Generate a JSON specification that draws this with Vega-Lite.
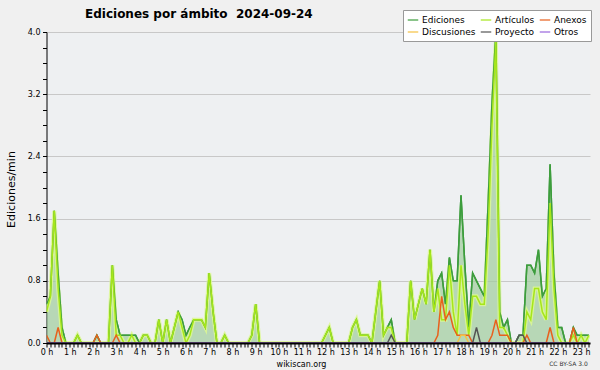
{
"$schema": "https://vega.github.io/schema/vega-lite/v6.json",
"width": 543.5, "height": 311,
"autosize": {"type": "none"},
"padding": {"left": 46.5, "top": 32, "right": 10, "bottom": 27},
"background": "#f0f0f0",
"title": {"text": "Ediciones por ámbito\u00a0\u00a02024-09-24", "anchor": "start", "frame": "group", "dx": 38.5, "dy": 22, "offset": 11, "font": "DejaVu Sans", "fontSize": 12, "fontWeight": "bold", "color": "#000"},
"config": {"view": {"fill": "#eef0f2", "stroke": null}},
"resolve": {"axis": {"x": "independent"}},
"data": {"values": [
{"t":0,"Ediciones":0.5,"Artículos":0.4,"Anexos":0.1,"Discusiones":0,"Proyecto":0,"Otros":0},
{"t":10,"Ediciones":0.6,"Artículos":0.6,"Anexos":0,"Discusiones":0,"Proyecto":0,"Otros":0},
{"t":20,"Ediciones":1.7,"Artículos":1.7,"Anexos":0,"Discusiones":0,"Proyecto":0,"Otros":0},
{"t":30,"Ediciones":0.9,"Artículos":0.7,"Anexos":0.2,"Discusiones":0,"Proyecto":0,"Otros":0},
{"t":40,"Ediciones":0.2,"Artículos":0.1,"Anexos":0,"Discusiones":0,"Proyecto":0,"Otros":0},
{"t":50,"Ediciones":0,"Artículos":0,"Anexos":0,"Discusiones":0,"Proyecto":0,"Otros":0},
{"t":60,"Ediciones":0,"Artículos":0,"Anexos":0,"Discusiones":0,"Proyecto":0,"Otros":0},
{"t":70,"Ediciones":0,"Artículos":0,"Anexos":0,"Discusiones":0,"Proyecto":0,"Otros":0},
{"t":80,"Ediciones":0.1,"Artículos":0.1,"Anexos":0,"Discusiones":0,"Proyecto":0,"Otros":0},
{"t":90,"Ediciones":0,"Artículos":0,"Anexos":0,"Discusiones":0,"Proyecto":0,"Otros":0},
{"t":100,"Ediciones":0,"Artículos":0,"Anexos":0,"Discusiones":0,"Proyecto":0,"Otros":0},
{"t":110,"Ediciones":0,"Artículos":0,"Anexos":0,"Discusiones":0,"Proyecto":0,"Otros":0},
{"t":120,"Ediciones":0,"Artículos":0,"Anexos":0,"Discusiones":0,"Proyecto":0,"Otros":0},
{"t":130,"Ediciones":0.1,"Artículos":0,"Anexos":0.1,"Discusiones":0,"Proyecto":0,"Otros":0},
{"t":140,"Ediciones":0,"Artículos":0,"Anexos":0,"Discusiones":0,"Proyecto":0,"Otros":0},
{"t":150,"Ediciones":0,"Artículos":0,"Anexos":0,"Discusiones":0,"Proyecto":0,"Otros":0},
{"t":160,"Ediciones":0,"Artículos":0,"Anexos":0,"Discusiones":0,"Proyecto":0,"Otros":0},
{"t":170,"Ediciones":1.0,"Artículos":1.0,"Anexos":0,"Discusiones":0,"Proyecto":0,"Otros":0},
{"t":180,"Ediciones":0.3,"Artículos":0.1,"Anexos":0.1,"Discusiones":0,"Proyecto":0,"Otros":0},
{"t":190,"Ediciones":0.1,"Artículos":0.1,"Anexos":0,"Discusiones":0,"Proyecto":0,"Otros":0},
{"t":200,"Ediciones":0.1,"Artículos":0,"Anexos":0,"Discusiones":0,"Proyecto":0,"Otros":0},
{"t":210,"Ediciones":0.1,"Artículos":0,"Anexos":0,"Discusiones":0,"Proyecto":0,"Otros":0},
{"t":220,"Ediciones":0.1,"Artículos":0.1,"Anexos":0,"Discusiones":0,"Proyecto":0,"Otros":0},
{"t":230,"Ediciones":0.1,"Artículos":0,"Anexos":0,"Discusiones":0,"Proyecto":0,"Otros":0},
{"t":240,"Ediciones":0,"Artículos":0,"Anexos":0,"Discusiones":0,"Proyecto":0,"Otros":0},
{"t":250,"Ediciones":0.1,"Artículos":0.1,"Anexos":0,"Discusiones":0,"Proyecto":0,"Otros":0},
{"t":260,"Ediciones":0.1,"Artículos":0.1,"Anexos":0,"Discusiones":0,"Proyecto":0,"Otros":0},
{"t":270,"Ediciones":0,"Artículos":0,"Anexos":0,"Discusiones":0,"Proyecto":0,"Otros":0},
{"t":280,"Ediciones":0,"Artículos":0,"Anexos":0,"Discusiones":0,"Proyecto":0,"Otros":0},
{"t":290,"Ediciones":0.3,"Artículos":0.3,"Anexos":0,"Discusiones":0,"Proyecto":0,"Otros":0},
{"t":300,"Ediciones":0,"Artículos":0,"Anexos":0,"Discusiones":0,"Proyecto":0,"Otros":0},
{"t":310,"Ediciones":0.3,"Artículos":0.3,"Anexos":0,"Discusiones":0,"Proyecto":0,"Otros":0},
{"t":320,"Ediciones":0,"Artículos":0,"Anexos":0,"Discusiones":0,"Proyecto":0,"Otros":0},
{"t":330,"Ediciones":0.2,"Artículos":0.2,"Anexos":0,"Discusiones":0,"Proyecto":0,"Otros":0},
{"t":340,"Ediciones":0.4,"Artículos":0.4,"Anexos":0,"Discusiones":0,"Proyecto":0,"Otros":0},
{"t":350,"Ediciones":0.3,"Artículos":0.2,"Anexos":0,"Discusiones":0,"Proyecto":0,"Otros":0},
{"t":360,"Ediciones":0.1,"Artículos":0,"Anexos":0,"Discusiones":0,"Proyecto":0,"Otros":0},
{"t":370,"Ediciones":0.2,"Artículos":0.1,"Anexos":0,"Discusiones":0,"Proyecto":0,"Otros":0},
{"t":380,"Ediciones":0.3,"Artículos":0.3,"Anexos":0,"Discusiones":0,"Proyecto":0,"Otros":0},
{"t":390,"Ediciones":0.3,"Artículos":0.3,"Anexos":0,"Discusiones":0,"Proyecto":0,"Otros":0},
{"t":400,"Ediciones":0.3,"Artículos":0.3,"Anexos":0,"Discusiones":0,"Proyecto":0,"Otros":0},
{"t":410,"Ediciones":0.2,"Artículos":0.2,"Anexos":0,"Discusiones":0,"Proyecto":0,"Otros":0},
{"t":420,"Ediciones":0.9,"Artículos":0.9,"Anexos":0,"Discusiones":0,"Proyecto":0,"Otros":0},
{"t":430,"Ediciones":0.4,"Artículos":0.4,"Anexos":0,"Discusiones":0,"Proyecto":0,"Otros":0},
{"t":440,"Ediciones":0,"Artículos":0,"Anexos":0,"Discusiones":0,"Proyecto":0,"Otros":0},
{"t":450,"Ediciones":0,"Artículos":0,"Anexos":0,"Discusiones":0,"Proyecto":0,"Otros":0},
{"t":460,"Ediciones":0.1,"Artículos":0.1,"Anexos":0,"Discusiones":0,"Proyecto":0,"Otros":0},
{"t":470,"Ediciones":0,"Artículos":0,"Anexos":0,"Discusiones":0,"Proyecto":0,"Otros":0},
{"t":480,"Ediciones":0,"Artículos":0,"Anexos":0,"Discusiones":0,"Proyecto":0,"Otros":0},
{"t":490,"Ediciones":0,"Artículos":0,"Anexos":0,"Discusiones":0,"Proyecto":0,"Otros":0},
{"t":500,"Ediciones":0,"Artículos":0,"Anexos":0,"Discusiones":0,"Proyecto":0,"Otros":0},
{"t":510,"Ediciones":0,"Artículos":0,"Anexos":0,"Discusiones":0,"Proyecto":0,"Otros":0},
{"t":520,"Ediciones":0,"Artículos":0,"Anexos":0,"Discusiones":0,"Proyecto":0,"Otros":0},
{"t":530,"Ediciones":0.1,"Artículos":0.1,"Anexos":0,"Discusiones":0,"Proyecto":0,"Otros":0},
{"t":540,"Ediciones":0.5,"Artículos":0.5,"Anexos":0,"Discusiones":0,"Proyecto":0,"Otros":0},
{"t":550,"Ediciones":0,"Artículos":0,"Anexos":0,"Discusiones":0,"Proyecto":0,"Otros":0},
{"t":560,"Ediciones":0,"Artículos":0,"Anexos":0,"Discusiones":0,"Proyecto":0,"Otros":0},
{"t":570,"Ediciones":0,"Artículos":0,"Anexos":0,"Discusiones":0,"Proyecto":0,"Otros":0},
{"t":580,"Ediciones":0,"Artículos":0,"Anexos":0,"Discusiones":0,"Proyecto":0,"Otros":0},
{"t":590,"Ediciones":0,"Artículos":0,"Anexos":0,"Discusiones":0,"Proyecto":0,"Otros":0},
{"t":600,"Ediciones":0,"Artículos":0,"Anexos":0,"Discusiones":0,"Proyecto":0,"Otros":0},
{"t":610,"Ediciones":0,"Artículos":0,"Anexos":0,"Discusiones":0,"Proyecto":0,"Otros":0},
{"t":620,"Ediciones":0,"Artículos":0,"Anexos":0,"Discusiones":0,"Proyecto":0,"Otros":0},
{"t":630,"Ediciones":0,"Artículos":0,"Anexos":0,"Discusiones":0,"Proyecto":0,"Otros":0},
{"t":640,"Ediciones":0,"Artículos":0,"Anexos":0,"Discusiones":0,"Proyecto":0,"Otros":0},
{"t":650,"Ediciones":0,"Artículos":0,"Anexos":0,"Discusiones":0,"Proyecto":0,"Otros":0},
{"t":660,"Ediciones":0,"Artículos":0,"Anexos":0,"Discusiones":0,"Proyecto":0,"Otros":0},
{"t":670,"Ediciones":0,"Artículos":0,"Anexos":0,"Discusiones":0,"Proyecto":0,"Otros":0},
{"t":680,"Ediciones":0,"Artículos":0,"Anexos":0,"Discusiones":0,"Proyecto":0,"Otros":0},
{"t":690,"Ediciones":0,"Artículos":0,"Anexos":0,"Discusiones":0,"Proyecto":0,"Otros":0},
{"t":700,"Ediciones":0,"Artículos":0,"Anexos":0,"Discusiones":0,"Proyecto":0,"Otros":0},
{"t":710,"Ediciones":0,"Artículos":0,"Anexos":0,"Discusiones":0,"Proyecto":0,"Otros":0},
{"t":720,"Ediciones":0.1,"Artículos":0.1,"Anexos":0,"Discusiones":0,"Proyecto":0,"Otros":0},
{"t":730,"Ediciones":0.2,"Artículos":0.2,"Anexos":0,"Discusiones":0,"Proyecto":0,"Otros":0},
{"t":740,"Ediciones":0,"Artículos":0,"Anexos":0,"Discusiones":0,"Proyecto":0,"Otros":0},
{"t":750,"Ediciones":0,"Artículos":0,"Anexos":0,"Discusiones":0,"Proyecto":0,"Otros":0},
{"t":760,"Ediciones":0,"Artículos":0,"Anexos":0,"Discusiones":0,"Proyecto":0,"Otros":0},
{"t":770,"Ediciones":0,"Artículos":0,"Anexos":0,"Discusiones":0,"Proyecto":0,"Otros":0},
{"t":780,"Ediciones":0,"Artículos":0,"Anexos":0,"Discusiones":0,"Proyecto":0,"Otros":0},
{"t":790,"Ediciones":0.2,"Artículos":0.2,"Anexos":0,"Discusiones":0,"Proyecto":0,"Otros":0},
{"t":800,"Ediciones":0.3,"Artículos":0.3,"Anexos":0,"Discusiones":0,"Proyecto":0,"Otros":0},
{"t":810,"Ediciones":0.1,"Artículos":0.1,"Anexos":0,"Discusiones":0,"Proyecto":0,"Otros":0},
{"t":820,"Ediciones":0.1,"Artículos":0.1,"Anexos":0,"Discusiones":0,"Proyecto":0,"Otros":0},
{"t":830,"Ediciones":0.1,"Artículos":0.1,"Anexos":0,"Discusiones":0,"Proyecto":0,"Otros":0},
{"t":840,"Ediciones":0,"Artículos":0,"Anexos":0,"Discusiones":0,"Proyecto":0,"Otros":0},
{"t":850,"Ediciones":0.4,"Artículos":0.4,"Anexos":0,"Discusiones":0,"Proyecto":0,"Otros":0},
{"t":860,"Ediciones":0.8,"Artículos":0.8,"Anexos":0,"Discusiones":0,"Proyecto":0,"Otros":0},
{"t":870,"Ediciones":0.1,"Artículos":0.1,"Anexos":0,"Discusiones":0,"Proyecto":0,"Otros":0},
{"t":880,"Ediciones":0.2,"Artículos":0.2,"Anexos":0,"Discusiones":0,"Proyecto":0,"Otros":0},
{"t":890,"Ediciones":0.3,"Artículos":0.2,"Anexos":0,"Discusiones":0,"Proyecto":0.1,"Otros":0},
{"t":900,"Ediciones":0,"Artículos":0,"Anexos":0,"Discusiones":0,"Proyecto":0,"Otros":0},
{"t":910,"Ediciones":0,"Artículos":0,"Anexos":0,"Discusiones":0,"Proyecto":0,"Otros":0},
{"t":920,"Ediciones":0,"Artículos":0,"Anexos":0,"Discusiones":0,"Proyecto":0,"Otros":0},
{"t":930,"Ediciones":0,"Artículos":0,"Anexos":0,"Discusiones":0,"Proyecto":0,"Otros":0},
{"t":940,"Ediciones":0.8,"Artículos":0.8,"Anexos":0,"Discusiones":0,"Proyecto":0,"Otros":0},
{"t":950,"Ediciones":0.3,"Artículos":0.3,"Anexos":0,"Discusiones":0,"Proyecto":0,"Otros":0},
{"t":960,"Ediciones":0.5,"Artículos":0.5,"Anexos":0,"Discusiones":0,"Proyecto":0,"Otros":0},
{"t":970,"Ediciones":0.7,"Artículos":0.7,"Anexos":0,"Discusiones":0,"Proyecto":0,"Otros":0},
{"t":980,"Ediciones":0.5,"Artículos":0.5,"Anexos":0,"Discusiones":0,"Proyecto":0,"Otros":0},
{"t":990,"Ediciones":1.2,"Artículos":1.2,"Anexos":0,"Discusiones":0,"Proyecto":0,"Otros":0},
{"t":1000,"Ediciones":0.4,"Artículos":0.4,"Anexos":0,"Discusiones":0,"Proyecto":0,"Otros":0},
{"t":1010,"Ediciones":0.8,"Artículos":0.7,"Anexos":0.1,"Discusiones":0,"Proyecto":0,"Otros":0},
{"t":1020,"Ediciones":0.9,"Artículos":0.3,"Anexos":0.6,"Discusiones":0,"Proyecto":0,"Otros":0},
{"t":1030,"Ediciones":0.5,"Artículos":0.3,"Anexos":0.3,"Discusiones":0,"Proyecto":0,"Otros":0},
{"t":1040,"Ediciones":1.1,"Artículos":1.0,"Anexos":0.4,"Discusiones":0,"Proyecto":0,"Otros":0},
{"t":1050,"Ediciones":0.8,"Artículos":0.4,"Anexos":0.2,"Discusiones":0,"Proyecto":0,"Otros":0},
{"t":1060,"Ediciones":0.8,"Artículos":0.1,"Anexos":0.1,"Discusiones":0,"Proyecto":0,"Otros":0},
{"t":1070,"Ediciones":1.9,"Artículos":1.0,"Anexos":0.1,"Discusiones":0.1,"Proyecto":0,"Otros":0},
{"t":1080,"Ediciones":1.0,"Artículos":0.5,"Anexos":0.1,"Discusiones":0.1,"Proyecto":0,"Otros":0},
{"t":1090,"Ediciones":0.2,"Artículos":0.1,"Anexos":0.1,"Discusiones":0,"Proyecto":0,"Otros":0},
{"t":1100,"Ediciones":0.9,"Artículos":0.6,"Anexos":0,"Discusiones":0,"Proyecto":0,"Otros":0},
{"t":1110,"Ediciones":0.8,"Artículos":0.6,"Anexos":0,"Discusiones":0,"Proyecto":0.2,"Otros":0},
{"t":1120,"Ediciones":0.7,"Artículos":0.5,"Anexos":0,"Discusiones":0,"Proyecto":0,"Otros":0},
{"t":1130,"Ediciones":0.6,"Artículos":0.5,"Anexos":0,"Discusiones":0,"Proyecto":0,"Otros":0},
{"t":1140,"Ediciones":1.8,"Artículos":1.4,"Anexos":0,"Discusiones":0,"Proyecto":0,"Otros":0},
{"t":1150,"Ediciones":3.1,"Artículos":2.8,"Anexos":0.1,"Discusiones":0,"Proyecto":0,"Otros":0},
{"t":1160,"Ediciones":4.0,"Artículos":3.9,"Anexos":0.3,"Discusiones":0,"Proyecto":0,"Otros":0},
{"t":1170,"Ediciones":0.4,"Artículos":0.2,"Anexos":0.1,"Discusiones":0,"Proyecto":0,"Otros":0},
{"t":1180,"Ediciones":0.2,"Artículos":0.2,"Anexos":0.1,"Discusiones":0,"Proyecto":0,"Otros":0},
{"t":1190,"Ediciones":0.3,"Artículos":0.1,"Anexos":0.1,"Discusiones":0,"Proyecto":0,"Otros":0},
{"t":1200,"Ediciones":0,"Artículos":0,"Anexos":0,"Discusiones":0,"Proyecto":0,"Otros":0},
{"t":1210,"Ediciones":0,"Artículos":0,"Anexos":0,"Discusiones":0,"Proyecto":0,"Otros":0},
{"t":1220,"Ediciones":0.1,"Artículos":0,"Anexos":0,"Discusiones":0,"Proyecto":0.1,"Otros":0},
{"t":1230,"Ediciones":0.1,"Artículos":0,"Anexos":0,"Discusiones":0,"Proyecto":0.1,"Otros":0},
{"t":1240,"Ediciones":1.0,"Artículos":0.4,"Anexos":0.1,"Discusiones":0,"Proyecto":0,"Otros":0},
{"t":1250,"Ediciones":1.0,"Artículos":0.3,"Anexos":0,"Discusiones":0,"Proyecto":0,"Otros":0},
{"t":1260,"Ediciones":0.9,"Artículos":0.7,"Anexos":0,"Discusiones":0,"Proyecto":0,"Otros":0},
{"t":1270,"Ediciones":1.2,"Artículos":0.7,"Anexos":0,"Discusiones":0,"Proyecto":0,"Otros":0},
{"t":1280,"Ediciones":0.6,"Artículos":0.4,"Anexos":0,"Discusiones":0,"Proyecto":0,"Otros":0},
{"t":1290,"Ediciones":0.7,"Artículos":0.3,"Anexos":0,"Discusiones":0,"Proyecto":0,"Otros":0},
{"t":1300,"Ediciones":2.3,"Artículos":1.8,"Anexos":0.2,"Discusiones":0,"Proyecto":0,"Otros":0},
{"t":1310,"Ediciones":0.9,"Artículos":0.7,"Anexos":0,"Discusiones":0,"Proyecto":0,"Otros":0},
{"t":1320,"Ediciones":0.2,"Artículos":0.1,"Anexos":0,"Discusiones":0,"Proyecto":0,"Otros":0},
{"t":1330,"Ediciones":0.2,"Artículos":0,"Anexos":0,"Discusiones":0,"Proyecto":0,"Otros":0},
{"t":1340,"Ediciones":0,"Artículos":0,"Anexos":0,"Discusiones":0,"Proyecto":0,"Otros":0},
{"t":1350,"Ediciones":0,"Artículos":0,"Anexos":0,"Discusiones":0,"Proyecto":0,"Otros":0},
{"t":1360,"Ediciones":0.2,"Artículos":0.1,"Anexos":0.2,"Discusiones":0,"Proyecto":0,"Otros":0},
{"t":1370,"Ediciones":0.1,"Artículos":0,"Anexos":0,"Discusiones":0,"Proyecto":0,"Otros":0},
{"t":1380,"Ediciones":0.1,"Artículos":0.1,"Anexos":0,"Discusiones":0,"Proyecto":0,"Otros":0},
{"t":1390,"Ediciones":0.1,"Artículos":0,"Anexos":0,"Discusiones":0,"Proyecto":0,"Otros":0},
{"t":1400,"Ediciones":0.1,"Artículos":0.1,"Anexos":0,"Discusiones":0,"Proyecto":0,"Otros":0}
]},
"layer": [
{
"mark": {"type": "area", "color": "#a0cc9c", "clip": true, "line": {"color": "#3d9d3d", "strokeWidth": 1.5}},
"encoding": {
"x": {"field": "t", "type": "quantitative", "scale": {"domain": [0, 1403], "nice": false, "zero": false},
"axis": {"tickCount": 141, "labelExpr": "datum.value % 60 == 0 ? (datum.value/60) + ' h' : ''", "labelOverlap": false, "labelFlush": false, "labelFont": "DejaVu Sans", "labelFontSize": 8, "labelColor": "#000", "labelPadding": 1, "tickSize": 4, "tickColor": "#000", "domainColor": "#000", "domainWidth": 2, "grid": false, "zindex": 1,
"title": "wikiscan.org", "titleFont": "DejaVu Sans", "titleFontSize": 8, "titleFontWeight": "normal", "titleColor": "#000", "titleX": 254.5, "titleY": 23, "titleAlign": "center", "titleBaseline": "alphabetic"}},
"y": {"field": "Ediciones", "type": "quantitative", "scale": {"domain": [0, 4], "nice": false},
"axis": {"title": "Ediciones/min", "tickCount": 20, "labelExpr": "round(datum.value*10) % 8 == 0 ? format(datum.value, '.1f') : ''", "labelOverlap": false, "labelFlush": false, "labelFont": "DejaVu Sans", "labelFontSize": 8, "labelColor": "#000", "labelPadding": 2.5, "tickSize": 4, "tickColor": "#000", "domainColor": "#000", "zindex": 0,
"grid": true, "gridColor": "#c8c8c8", "gridOpacity": {"condition": {"test": "round(datum.value*10) % 8 == 0", "value": 1}, "value": 0},
"titleFont": "DejaVu Sans", "titleFontSize": 11, "titleFontWeight": "normal", "titleColor": "#000", "titleX": -35, "titleY": 157, "titleAlign": "center", "titleBaseline": "middle"}}
}
},
{
"mark": {"type": "line", "color": "#dcf892", "strokeWidth": 4, "opacity": 0.85, "clip": true},
"encoding": {
"x": {"field": "t", "type": "quantitative", "axis": {"orient": "bottom", "labels": false, "ticks": false, "domain": false, "grid": false, "title": "CC BY-SA 3.0", "titleFont": "DejaVu Sans", "titleFontSize": 6, "titleFontWeight": "normal", "titleColor": "#333", "titleX": 521.5, "titleY": 22, "titleAlign": "center", "titleBaseline": "alphabetic"}},
"y": {"field": "Artículos", "type": "quantitative"}
}
},
{
"transform": [{"fold": ["Ediciones", "Artículos", "Anexos", "Discusiones", "Proyecto", "Otros"], "as": ["serie", "v"]}],
"mark": {"type": "line", "strokeWidth": 1.5, "clip": true},
"encoding": {
"x": {"field": "t", "type": "quantitative", "axis": null},
"y": {"field": "v", "type": "quantitative"},
"color": {"field": "serie", "type": "nominal",
"scale": {"domain": ["Ediciones", "Artículos", "Anexos", "Discusiones", "Proyecto", "Otros"], "range": ["#3d9d3d", "#a6e61a", "#e8601c", "#f5c242", "#555555", "#9966dd"]},
"legend": {"orient": "none", "legendX": 356.5, "legendY": -22, "zindex": 2, "columns": 3, "direction": "horizontal", "title": null, "symbolType": "stroke", "symbolSize": 110, "symbolStrokeWidth": 1.2, "labelFont": "DejaVu Sans", "labelFontSize": 9, "labelColor": "#000", "labelBaseline": "middle", "fillColor": "#ffffff", "strokeColor": "#999999", "padding": 4, "rowPadding": 1, "columnPadding": 2, "labelOffset": 3, "labelLimit": 120}}
}
}
]
}
